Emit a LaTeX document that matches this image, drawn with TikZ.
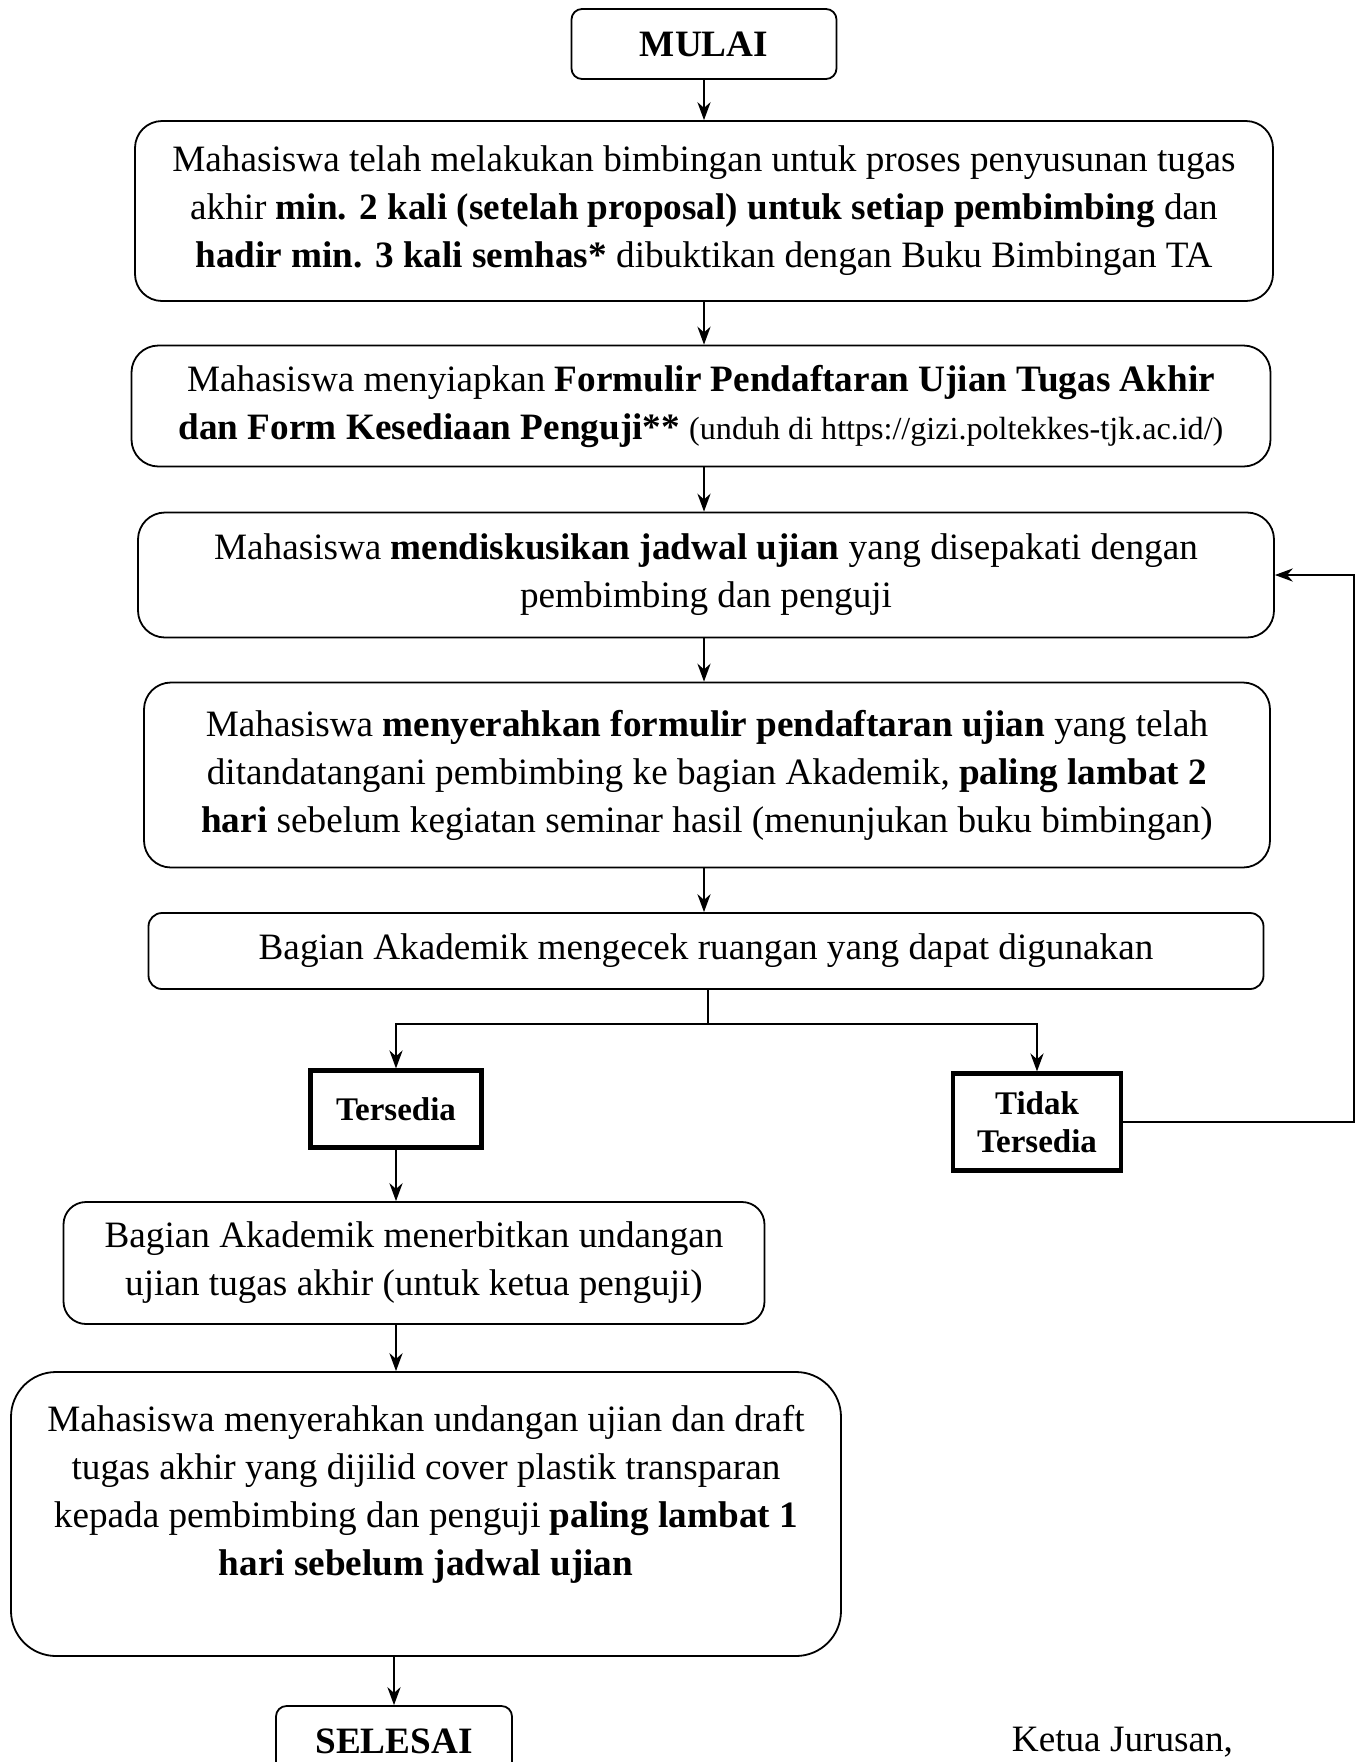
\documentclass[tikz,border=0pt]{standalone}
\usepackage{fontspec}
\setmainfont{Liberation Serif}
\usetikzlibrary{arrows.meta}
\newlength\px
\setlength\px{0.3333pt}

\begin{document}
\begin{tikzpicture}[x=\px, y=-\px, line width=0.6pt,
  box/.style={draw, rounded corners=9pt, align=center, inner sep=0pt,
    font=\fontsize{12.4}{16}\selectfont},
  endbox/.style={box, rounded corners=3.5pt, font=\bfseries\fontsize{12.4}{16}\selectfont},
  choice/.style={draw, line width=1.4pt, align=center, inner sep=0pt,
    font=\bfseries\fontsize{11}{12.5}\selectfont},
  arr/.style={-{Stealth[length=6pt, width=4.4pt]}}]
\useasboundingbox (0,0) rectangle (1363,1762);
\node[endbox, minimum width=265\px, minimum height=70\px] (mulai) at (704,44) {MULAI};
\node[box, minimum width=1138\px, minimum height=180\px] (bimbingan) at (704,211)
  {Mahasiswa telah melakukan bimbingan untuk proses penyusunan tugas\\
   akhir \textbf{min. 2 kali (setelah proposal) untuk setiap pembimbing} dan\\
   \textbf{hadir min. 3 kali semhas*} dibuktikan dengan Buku Bimbingan TA};
\node[box, minimum width=1139\px, minimum height=121\px] (formulir) at (701,406)
  {Mahasiswa menyiapkan \textbf{Formulir Pendaftaran Ujian Tugas Akhir}\\
   \textbf{dan Form Kesediaan Penguji**} {\fontsize{10.7}{16}\selectfont(unduh di https://gizi.poltekkes-tjk.ac.id/)}};
\node[box, minimum width=1136\px, minimum height=125\px] (jadwal) at (706,575)
  {Mahasiswa \textbf{mendiskusikan jadwal ujian} yang disepakati dengan\\
   pembimbing dan penguji};
\node[box, minimum width=1126\px, minimum height=185\px] (serah) at (707,775)
  {Mahasiswa \textbf{menyerahkan formulir pendaftaran ujian} yang telah\\
   ditandatangani pembimbing ke bagian Akademik, \textbf{paling lambat 2}\\
   \textbf{hari} sebelum kegiatan seminar hasil (menunjukan buku bimbingan)};
\node[box, rounded corners=4.5pt, minimum width=1115\px, minimum height=76\px] (ruang) at (706,951)
  {Bagian Akademik mengecek ruangan yang dapat digunakan};
\node[choice, minimum width=171\px, minimum height=77\px] (tersedia) at (396,1109) {Tersedia};
\node[choice, minimum width=168\px, minimum height=97\px] (tidak) at (1037,1122) {Tidak\\Tersedia};
\node[box, rounded corners=7.5pt, minimum width=701\px, minimum height=122\px] (undangan) at (414,1263)
  {Bagian Akademik menerbitkan undangan\\
   ujian tugas akhir (untuk ketua penguji)};
\node[box, rounded corners=15pt, minimum width=830\px, minimum height=284\px] (draft) at (426,1514)
  {Mahasiswa menyerahkan undangan ujian dan draft\\
   tugas akhir yang dijilid cover plastik transparan\\
   kepada pembimbing dan penguji \textbf{paling lambat 1}\\
   \textbf{hari sebelum jadwal ujian}\\[-5pt] \strut};
\node[endbox, minimum width=236\px, minimum height=70\px] (selesai) at (394,1741) {SELESAI};
\node[font=\fontsize{12.4}{16}\selectfont, anchor=west] (ketua) at (1001,1742) {Ketua Jurusan,};

\draw[arr] (mulai) -- (mulai |- bimbingan.north);
\draw[arr] (bimbingan.south -| mulai) -- (mulai |- formulir.north);
\draw[arr] (formulir.south -| mulai) -- (mulai |- jadwal.north);
\draw[arr] (jadwal.south -| mulai) -- (mulai |- serah.north);
\draw[arr] (serah.south -| mulai) -- (mulai |- ruang.north);
\draw (ruang.south -| 708,0) -- (708,1024) coordinate (fork);
\draw[arr] (fork) -| (tersedia.north);
\draw[arr] (fork) -| (tidak.north);
\coordinate (loop) at (1354,1122);
\draw[arr] (tidak.east) -- (loop) |- (jadwal.east);
\draw[arr] (tersedia) -- (tersedia |- undangan.north);
\draw[arr] (undangan.south -| tersedia) -- (tersedia |- draft.north);
\draw[arr] (draft.south -| selesai) -- (selesai.north);
\end{tikzpicture}
\end{document}
